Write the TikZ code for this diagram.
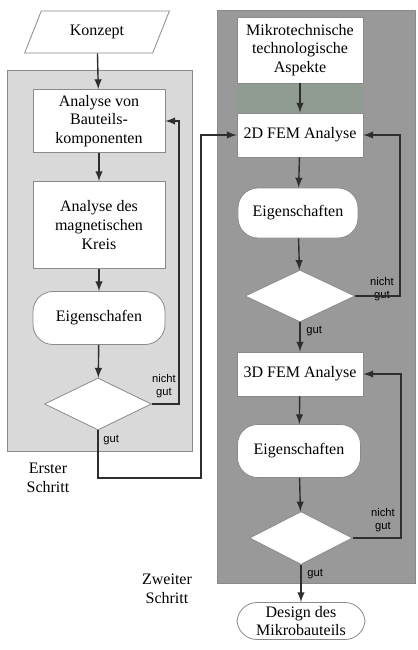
\documentclass[tikz,border=0pt]{standalone}
\usepackage{fontspec}
\setmainfont{Liberation Serif}
\setsansfont{Liberation Sans}
\usetikzlibrary{shapes.geometric}

\definecolor{panelA}{HTML}{D9D9D9}
\definecolor{panelB}{HTML}{999999}
\definecolor{band}{HTML}{909C92}
\definecolor{edge}{HTML}{8A8A8A}
\definecolor{ink}{HTML}{2E2E2E}

\newcommand{\boxfont}{\rmfamily\fontsize{8}{9.3}\selectfont}
\newcommand{\tagfont}{\sffamily\fontsize{5.6}{6.8}\selectfont}

\begin{document}
\begin{tikzpicture}[x=0.5pt,y=-0.5pt,
    box/.style={draw=edge,fill=white,inner sep=1pt,align=center,font=\boxfont},
    term/.style={box,rounded corners=10pt},
    decide/.style={diamond,draw=edge,fill=white,inner sep=0pt},
    arr/.style={draw=ink,line width=0.7pt,-latex},
    tag/.style={align=center,font=\tagfont,inner sep=0pt},
    step label/.style={align=center,font=\boxfont}]

            \useasboundingbox (0,0) rectangle (418,650);

            % panels
            \draw[edge,fill=panelA] (7,70) rectangle (192,451);
            \draw[edge,fill=panelB] (217,10) rectangle (415,583);
            \fill[band] (237,83) rectangle (363,113);

            % erster Schritt
            \node[box,trapezium,trapezium left angle=64,trapezium right angle=116,trapezium stretches=true,minimum width=72.5pt,minimum height=21pt] (K) at (97,32) {Konzept};
            \node[box,minimum width=66pt,minimum height=31.5pt] (A1) at (99,121) {Analyse von\\Bauteils-\\komponenten};
            \node[box,minimum width=66pt,minimum height=43.5pt] (A2) at (99,225) {Analyse des\\magnetischen\\Kreis};
            \node[term,minimum width=66pt,minimum height=26.5pt] (E1) at (99,318) {Eigenschafen};
            \node[decide,minimum width=53.5pt,minimum height=26pt] (D1) at (98,404) {};

            % zweiter Schritt
            \node[box,minimum width=63pt,minimum height=33pt] (M) at (300,50) {Mikrotechnische\\technologische\\Aspekte};
            \node[box,minimum width=63pt,minimum height=22pt] (F2) at (300,135) {2D FEM Analyse};
            \node[term,minimum width=60pt,minimum height=25pt] (E2) at (298,213) {Eigenschaften};
            \node[decide,minimum width=55pt,minimum height=26pt] (D2) at (300,296) {};
            \node[box,minimum width=63pt,minimum height=22pt] (F3) at (300,374) {3D FEM Analyse};
            \node[term,minimum width=61.5pt,minimum height=26.5pt] (E3) at (299,451) {Eigenschaften};
            \node[decide,minimum width=51.5pt,minimum height=26.5pt] (D3) at (301,538) {};
            \node[term,minimum width=64pt,minimum height=18.5pt] (G) at (301,621) {Design des\\Mikrobauteils};

            \node[step label] (S1) at (48,478) {Erster\\Schritt};
            \node[step label] (S2) at (167,589) {Zweiter\\Schritt};

            \node[tag] (N1) at (164,386) {nicht\\gut};
            \node[tag] (N2) at (382,289) {nicht\\gut};
            \node[tag] (N3) at (383,520) {nicht\\gut};
            \node[tag,anchor=west] (G1) at (103,440) {gut};
            \node[tag,anchor=west] (G2) at (306,331) {gut};
            \node[tag,anchor=west] (G3) at (307,574) {gut};

            \coordinate (R1) at (179,0);
            \coordinate (R2) at (400,0);
            \coordinate (R3) at (401,0);
            \coordinate (T) at (201,478);

            \draw[arr] (K) to (A1);
            \draw[arr] (A1) to (A2);
            \draw[arr] (A2) to (E1);
            \draw[arr] (E1) to (D1);
            \draw[arr] (D1.east) -- (D1.east -| R1) -- (A1.east -| R1) -- (A1.east);
            \draw[arr] (D1.south) |- (T) |- (F2.west);

            \draw[arr] (M) to (F2);
            \draw[arr] (F2) to (E2);
            \draw[arr] (E2) to (D2);
            \draw[arr] (D2.east) -- (D2.east -| R2) -- (F2.east -| R2) -- (F2.east);
            \draw[arr] (D2) to (F3);
            \draw[arr] (F3) to (E3);
            \draw[arr] (E3) to (D3);
            \draw[arr] (D3.east) -- (D3.east -| R3) -- (F3.east -| R3) -- (F3.east);
            \draw[arr] (D3) to (G);
        \end{tikzpicture}
\end{document}
